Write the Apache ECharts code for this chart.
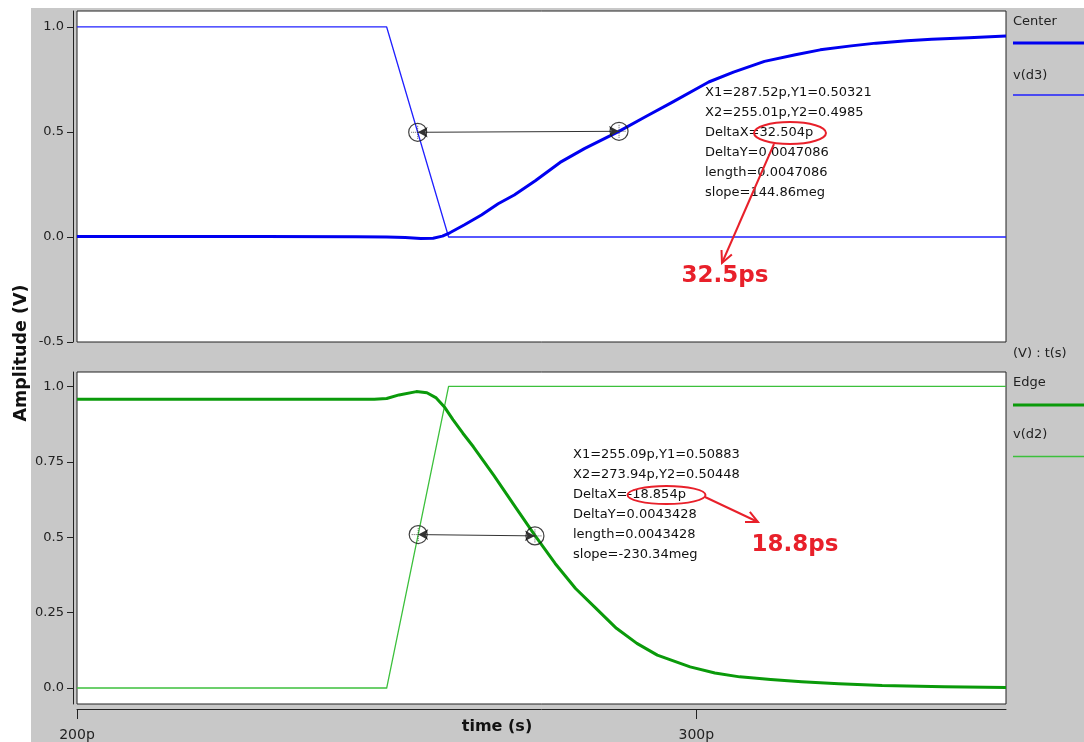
<!DOCTYPE html>
<html>
<head>
<meta charset="utf-8">
<title>Center / Edge waveforms</title>
<script src="https://cdn.jsdelivr.net/npm/echarts@6/dist/echarts.min.js"></script>
<style>
  html, body { margin: 0; padding: 0; background: #fff; }
  #chart { width: 1084px; height: 742px; }
</style>
</head>
<body>
<div id="chart"></div>
<script>
// waveform data, time in ps, amplitude in V
const centerTime = [200, 215, 230, 245, 250, 253, 255.5, 257.5, 259, 260.2, 262.5, 265.3, 268, 270.6, 274, 278, 282, 287.5, 292, 296, 302, 306, 311, 316, 320, 325, 329, 334, 338, 344, 350];
const centerVolt = [0.002, 0.002, 0.002, 0.001, 0.0, -0.003, -0.007, -0.006, 0.004, 0.02, 0.057, 0.105, 0.158, 0.2, 0.268, 0.355, 0.422, 0.503, 0.576, 0.64, 0.738, 0.785, 0.836, 0.868, 0.891, 0.91, 0.923, 0.934, 0.942, 0.949, 0.957];
const d3Time = [200, 250, 260, 350];
const d3Volt = [1, 1, 0, 0];

const edgeTime = [200, 220, 240, 248, 250, 252, 254.8, 256.5, 258, 259.4, 260.7, 262.3, 264, 267.3, 270.6, 273.9, 277.2, 280.5, 283.8, 287.1, 290.4, 293.7, 299, 303, 307, 312, 317, 323, 330, 340, 350];
const edgeVolt = [0.958, 0.958, 0.958, 0.958, 0.96, 0.972, 0.983, 0.979, 0.962, 0.93, 0.89, 0.845, 0.8, 0.705, 0.606, 0.507, 0.413, 0.33, 0.264, 0.198, 0.148, 0.109, 0.07, 0.05, 0.037, 0.028, 0.021, 0.014, 0.008, 0.004, 0.002];
const d2Time = [200, 250, 260, 350];
const d2Volt = [0, 0, 1, 1];

// cursor pairs
const topCursorX = [255.01, 287.52];
const topCursorY = [0.4985, 0.50321];
const botCursorX = [255.09, 273.94];
const botCursorY = [0.50883, 0.50448];

// tick labels
const topTicks = [-0.5, 0, 0.5, 1.0];
const topTickLabels = ['-0.5', '0.0', '0.5', '1.0'];
const botTicks = [0, 0.25, 0.5, 0.75, 1.0];
const botTickLabels = ['0.0', '0.25', '0.5', '0.75', '1.0'];
const timeTicks = [200, 300];
const timeTickLabels = ['200p', '300p'];

const topInfo = ['X1=287.52p,Y1=0.50321', 'X2=255.01p,Y2=0.4985', 'DeltaX=32.504p', 'DeltaY=0.0047086', 'length=0.0047086', 'slope=144.86meg'];
const botInfo = ['X1=255.09p,Y1=0.50883', 'X2=273.94p,Y2=0.50448', 'DeltaX=-18.854p', 'DeltaY=0.0043428', 'length=0.0043428', 'slope=-230.34meg'];

const BLUE_THICK = '#0000f0';
const BLUE_THIN = '#2020ff';
const GREEN_THICK = '#0a9a0a';
const GREEN_THIN = '#3cc03c';
const RED = '#e8202a';
const FONT = '"DejaVu Sans", "Liberation Sans", sans-serif';

const zip = (xs, ys) => xs.map((x, i) => [x, ys[i]]);

function yAxis(gridIndex, min, max, ticks, labels) {
  return {
    type: 'value', gridIndex, min, max, offset: 4,
    axisLine: { show: true, onZero: false, lineStyle: { color: '#222' } },
    axisTick: { show: true, length: 6, customValues: ticks, lineStyle: { color: '#222' } },
    axisLabel: {
      customValues: ticks, margin: 9, color: '#222', fontSize: 13, fontFamily: FONT,
      formatter: v => labels[ticks.indexOf(v)]
    },
    splitLine: { show: false }
  };
}

function lineSeries(name, idx, data, color, width) {
  return {
    name, type: 'line', xAxisIndex: idx, yAxisIndex: idx, data,
    showSymbol: false, smooth: false,
    lineStyle: { color, width, join: 'round' }, itemStyle: { color }
  };
}

function cursorSeries(idx, xs, ys) {
  const pts = zip(xs, ys);
  return [{
    type: 'scatter', xAxisIndex: idx, yAxisIndex: idx, data: pts, z: 5,
    symbol: 'circle', symbolSize: 18,
    itemStyle: { color: 'rgba(255,255,255,0)', borderColor: '#111', borderWidth: 1.2 },
    markLine: {
      silent: true, symbol: ['arrow', 'arrow'], symbolSize: [8, 10],
      label: { show: false },
      lineStyle: { color: '#333', width: 1, type: 'solid' },
      data: [[{ coord: pts[0] }, { coord: pts[1] }]]
    }
  }, {
    type: 'scatter', xAxisIndex: idx, yAxisIndex: idx, data: pts, z: 5,
    symbol: 'path://M10 0 L10 20 M0 10 L20 10', symbolSize: 13,
    itemStyle: { color: 'none', borderColor: '#333', borderWidth: 1, borderType: 'dotted' }
  }];
}

// red callout: open arrow head at (x2, y2)
function arrow(x1, y1, x2, y2) {
  const a = Math.atan2(y1 - y2, x1 - x2);
  const len = 13, spread = 0.45;
  return [
    { type: 'line', z: 20, shape: { x1, y1, x2, y2 }, style: { stroke: RED, lineWidth: 2 } },
    { type: 'polyline', z: 20, shape: { points: [
        [x2 + len * Math.cos(a + spread), y2 + len * Math.sin(a + spread)],
        [x2, y2],
        [x2 + len * Math.cos(a - spread), y2 + len * Math.sin(a - spread)]
      ] }, style: { stroke: RED, lineWidth: 2, fill: null } }
  ];
}

function legendItem(label, y, lineY, color, width) {
  return [
    { type: 'text', style: { x: 1013, y, text: label, font: '13px ' + FONT, fill: '#222', verticalAlign: 'middle' } },
    { type: 'line', shape: { x1: 1013, y1: lineY, x2: 1084, y2: lineY }, style: { stroke: color, lineWidth: width } }
  ];
}

const chart = echarts.init(document.getElementById('chart'));
const option = {
  animation: false,
  backgroundColor: '#fff',
  grid: [
    { left: 77, top: 11, width: 929, height: 331, show: true, backgroundColor: '#fff', borderColor: '#222', borderWidth: 1 },
    { left: 77, top: 372, width: 929, height: 332, show: true, backgroundColor: '#fff', borderColor: '#222', borderWidth: 1 }
  ],
  xAxis: [
    { type: 'value', gridIndex: 0, min: 200, max: 350, show: false },
    {
      type: 'value', gridIndex: 1, min: 200, max: 350, offset: 5,
      axisLine: { show: true, onZero: false, lineStyle: { color: '#222' } },
      axisTick: { show: true, length: 10, customValues: timeTicks, lineStyle: { color: '#222' } },
      axisLabel: {
        customValues: timeTicks, margin: 19, color: '#222', fontSize: 14, fontFamily: FONT,
        formatter: v => timeTickLabels[timeTicks.indexOf(v)]
      },
      splitLine: { show: false }
    }
  ],
  yAxis: [
    yAxis(0, -0.5, 1.076, topTicks, topTickLabels),
    yAxis(1, -0.053, 1.048, botTicks, botTickLabels)
  ],
  series: [
    lineSeries('v(d3)', 0, zip(d3Time, d3Volt), BLUE_THIN, 1.3),
    lineSeries('Center', 0, zip(centerTime, centerVolt), BLUE_THICK, 3),
    lineSeries('v(d2)', 1, zip(d2Time, d2Volt), GREEN_THIN, 1.3),
    lineSeries('Edge', 1, zip(edgeTime, edgeVolt), GREEN_THICK, 3),
    ...cursorSeries(0, topCursorX, topCursorY),
    ...cursorSeries(1, botCursorX, botCursorY)
  ],
  graphic: [
    // grey panel
    { type: 'rect', z: -100, shape: { x: 31, y: 8, width: 1053, height: 734 }, style: { fill: '#c8c8c8' } },
    {
      type: 'text', x: 21, y: 353, rotation: Math.PI / 2,
      style: { x: 0, y: 0, text: 'Amplitude (V)', font: 'bold 17.5px ' + FONT, fill: '#111', align: 'center', verticalAlign: 'middle' }
    },
    { type: 'text', style: { x: 497, y: 727, text: 'time (s)', font: 'bold 16px ' + FONT, fill: '#111', align: 'center', verticalAlign: 'middle' } },
    ...legendItem('Center', 22, 43, BLUE_THICK, 3),
    ...legendItem('v(d3)', 76, 95, BLUE_THIN, 1.5),
    { type: 'text', style: { x: 1013, y: 354, text: '(V) : t(s)', font: '13px ' + FONT, fill: '#222', verticalAlign: 'middle' } },
    ...legendItem('Edge', 383, 405, GREEN_THICK, 3),
    ...legendItem('v(d2)', 435, 456.5, GREEN_THIN, 1.5),
    // cursor readouts
    { type: 'text', z: 10, style: { x: 705, y: 83, text: topInfo.join('\n'), font: '13px ' + FONT, lineHeight: 20, fill: '#111', verticalAlign: 'top' } },
    { type: 'text', z: 10, style: { x: 573, y: 445, text: botInfo.join('\n'), font: '13px ' + FONT, lineHeight: 20, fill: '#111', verticalAlign: 'top' } },
    // red call-outs
    { type: 'ellipse', z: 20, shape: { cx: 790, cy: 133, rx: 36, ry: 11 }, style: { stroke: RED, lineWidth: 2, fill: null } },
    ...arrow(774, 144, 722, 263),
    { type: 'text', z: 20, style: { x: 725, y: 276, text: '32.5ps', font: 'bold 23px ' + FONT, fill: RED, align: 'center', verticalAlign: 'middle' } },
    { type: 'ellipse', z: 20, shape: { cx: 666.5, cy: 495, rx: 39, ry: 9 }, style: { stroke: RED, lineWidth: 2, fill: null } },
    ...arrow(705, 497, 758, 522),
    { type: 'text', z: 20, style: { x: 795, y: 545, text: '18.8ps', font: 'bold 23px ' + FONT, fill: RED, align: 'center', verticalAlign: 'middle' } }
  ]
};
chart.setOption(option);
</script>
</body>
</html>
